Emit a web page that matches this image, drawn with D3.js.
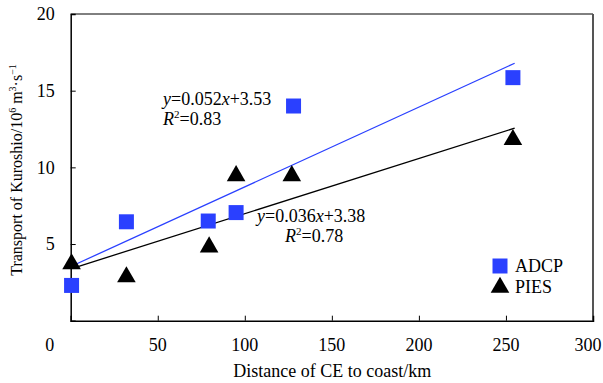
<!DOCTYPE html>
<html>
<head>
<meta charset="utf-8">
<script src="https://cdn.jsdelivr.net/npm/d3@7"></script>
<style>
  body { margin: 0; background: #fff; }
  svg text { font-family: "Liberation Serif", "Times New Roman", serif; fill: #000; }
</style>
</head>
<body>
<div id="chart"></div>
<script>
"use strict";

// data
var adcpDist = [0.5, 32, 79, 95, 128, 254];
var adcpTransport = [2.3, 6.45, 6.5, 7.05, 14.0, 15.85];
var piesDist = [0.5, 32, 79.5, 95, 127, 254];
var piesTransport = [3.7, 2.85, 4.8, 9.45, 9.45, 11.8];

// fitted lines: slope, intercept, r2
var adcpFit = [0.052, 3.53, 0.83];
var piesFit = [0.036, 3.38, 0.78];
var fitRange = [1, 255];

var xTicks = [0, 50, 100, 150, 200, 250, 300];
var yTicks = [5, 10, 15, 20];

var blue = "#2a40ff";

var W = 603, H = 383;
var margin = {top: 14, right: 10, bottom: 62.3, left: 70.7},
    width = W - margin.left - margin.right,
    height = H - margin.top - margin.bottom;

var x = d3.scaleLinear().domain([0, 300]).range([0, width]);
var y = d3.scaleLinear().domain([0, 20]).range([height, 0]);

var svg = d3.select("#chart").append("svg")
    .attr("width", W)
    .attr("height", H)
  .append("g")
    .attr("transform", "translate(" + margin.left + "," + margin.top + ")");

// frame: top and right
svg.append("line").attr("x1", 0).attr("x2", width).attr("y1", 0).attr("y2", 0)
    .attr("stroke", "#000").attr("stroke-width", 1);
svg.append("line").attr("x1", width).attr("x2", width).attr("y1", 0).attr("y2", height)
    .attr("stroke", "#555").attr("stroke-width", 2);

// x axis, ticks pointing inward
var xAxis = svg.append("g")
    .attr("transform", "translate(0," + height + ")")
    .call(d3.axisTop(x).tickValues(xTicks.slice(1, -1)).tickSize(5).tickFormat(""));
xAxis.select(".domain").attr("stroke-width", 1.5);
svg.append("g").selectAll("text")
    .data(xTicks)
  .enter().append("text")
    .attr("x", function(d) {
      if (d === 0) return x(d) - 21;
      if (d === 300) return x(d) - 5;   // keep it inside the window
      return x(d);
    })
    .attr("y", height + 30)
    .attr("text-anchor", "middle")
    .attr("font-size", "18px")
    .text(function(d) { return d; });

// y axis, ticks pointing inward
var yAxis = svg.append("g")
    .call(d3.axisRight(y).tickValues(yTicks.slice(0, -1)).tickSize(5).tickFormat(""));
yAxis.select(".domain").attr("stroke-width", 1.5);
svg.append("g").selectAll("text")
    .data(yTicks)
  .enter().append("text")
    .attr("x", -16)
    .attr("y", function(d) { return y(d); })
    .attr("dy", "0.35em")
    .attr("text-anchor", "end")
    .attr("font-size", "18px")
    .text(function(d) { return d; });

// axis titles
svg.append("text")
    .attr("x", width / 2 + 0.5)
    .attr("y", 377 - margin.top)
    .attr("text-anchor", "middle")
    .attr("font-size", "18px")
    .text("Distance of CE to coast/km");

var yTitle = svg.append("text")
    .attr("transform", "translate(" + (-margin.left + 22) + "," + (170 - margin.top) + ") rotate(-90)")
    .attr("text-anchor", "middle")
    .attr("font-size", "16px");
yTitle.append("tspan").text("Transport of Kuroshio/10");
yTitle.append("tspan").attr("font-size", "10px").attr("dy", "-6").text("6");
yTitle.append("tspan").attr("dy", "6").text(" m");
yTitle.append("tspan").attr("font-size", "10px").attr("dy", "-6").text("3");
yTitle.append("tspan").attr("dy", "6").text("·s");
yTitle.append("tspan").attr("font-size", "10px").attr("dy", "-6").text("−1");

// trend lines
function fitLine(fit) {
  return fitRange.map(function(d) { return [x(d), y(fit[0] * d + fit[1])]; });
}
svg.append("path")
    .attr("d", d3.line()(fitLine(adcpFit)))
    .attr("stroke", blue).attr("stroke-width", 1.3).attr("fill", "none");
svg.append("path")
    .attr("d", d3.line()(fitLine(piesFit)))
    .attr("stroke", "#000").attr("stroke-width", 1.3).attr("fill", "none");

// points
var square = d3.symbol(d3.symbolSquare, 225);
var triangle = d3.symbol(d3.symbolTriangle, 150);

svg.selectAll(".adcp")
    .data(adcpDist)
  .enter().append("path")
    .attr("class", "adcp")
    .attr("d", square)
    .attr("fill", blue)
    .attr("transform", function(d, i) { return "translate(" + x(d) + "," + y(adcpTransport[i]) + ")"; });

svg.selectAll(".pies")
    .data(piesDist)
  .enter().append("path")
    .attr("class", "pies")
    .attr("d", triangle)
    .attr("fill", "#000")
    .attr("transform", function(d, i) { return "translate(" + x(d) + "," + y(piesTransport[i]) + ")"; });

// equations
function equation(fit, px, py, r2x) {
  var t = svg.append("text").attr("x", px).attr("y", py).attr("font-size", "18px");
  t.append("tspan").attr("font-style", "italic").text("y");
  t.append("tspan").text("=" + fit[0].toFixed(3));
  t.append("tspan").attr("font-style", "italic").text("x");
  t.append("tspan").text("+" + fit[1].toFixed(2));
  var r = svg.append("text").attr("x", r2x).attr("y", py + 20).attr("font-size", "18px");
  r.append("tspan").attr("font-style", "italic").text("R");
  r.append("tspan").attr("font-size", "11px").attr("dy", "-7").text("2");
  r.append("tspan").attr("dy", "7").text("=" + fit[2].toFixed(2));
}
equation(adcpFit, 163 - margin.left, 105 - margin.top, 163 - margin.left);
equation(piesFit, 257 - margin.left, 222 - margin.top, 285 - margin.left);

// legend
var legend = svg.append("g").attr("transform", "translate(" + (500 - margin.left) + "," + (266 - margin.top) + ")");
legend.append("path").attr("d", square).attr("fill", blue);
legend.append("path").attr("d", triangle).attr("fill", "#000").attr("transform", "translate(0,21.5)");
legend.append("text").attr("x", 15).attr("y", 6).attr("font-size", "18px").text("ADCP");
legend.append("text").attr("x", 15).attr("y", 27).attr("font-size", "18px").text("PIES");
</script>
</body>
</html>
